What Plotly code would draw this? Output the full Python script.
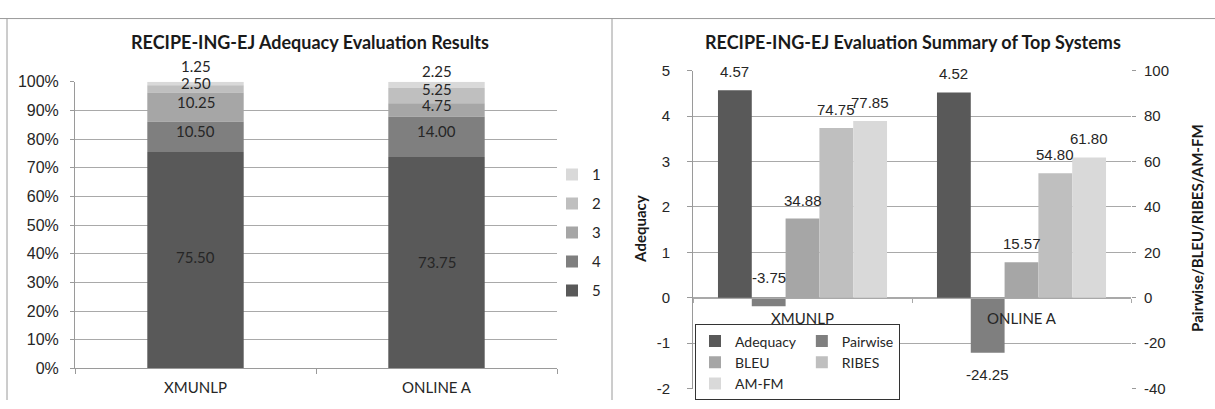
import numpy as np
import plotly.graph_objects as go

W, H = 1215, 409

# ---- Left chart: distribution of adequacy scores (% of sentences) ----
systems = ["XMUNLP", "ONLINE A"]
score_names = ["5", "4", "3", "2", "1"]
score5 = [75.50, 73.75]
score4 = [10.50, 14.00]
score3 = [10.25, 4.75]
score2 = [2.50, 5.25]
score1 = [1.25, 2.25]
pct_ticks = [0, 10, 20, 30, 40, 50, 60, 70, 80, 90, 100]

# ---- Right chart: summary of metrics for the top systems ----
metric_names = ["Adequacy", "Pairwise", "BLEU", "RIBES", "AM-FM"]
adequacy = [4.57, 4.52]
pairwise = [-3.75, -24.25]
bleu = [34.88, 15.57]
ribes = [74.75, 54.80]
amfm = [77.85, 61.80]
adequacy_ticks = [-2, -1, 0, 1, 2, 3, 4, 5]
metric_ticks = [-40, -20, 0, 20, 40, 60, 80, 100]

# ---- styling ----
greys = ["#595959", "#7f7f7f", "#a6a6a6", "#bfbfbf", "#d9d9d9"]
grid_c = "#a9a9a9"
frame_c = "#9a9a9a"
txt_c = "#262626"
SANS = "Liberation Sans, Arial, sans-serif"
CAL = "Lato, Open Sans, sans-serif"
# vertical nudges (px) for the stacked-segment labels, per system
left_label_shift = [[3, 6, 5, 6, 17], [1, 6, 5, 7, 14]]
BARGAP = 0.228


def px(x):
    return x / W


def py(y):
    return 1 - y / H


def tick_text(vals, suffix=""):
    # plain hyphen for negatives
    return [f"{v}{suffix}".replace("\u2212", "-") for v in vals]


fig = go.Figure()

# stacked segments (bottom: score 5, top: score 1); bases come from cumulative sums
left_series = [score5, score4, score3, score2, score1]
bases = np.vstack([np.zeros(2), np.cumsum(np.array(left_series), axis=0)[:-1]])
# added top-down so the legend lists 1 .. 5
for i in reversed(range(len(left_series))):
    name, vals = score_names[i], left_series[i]
    fig.add_trace(go.Bar(
        x=systems, y=vals, base=bases[i], name=name,
        marker=dict(color=greys[i], line=dict(width=0)),
        width=0.4, offsetgroup="L", legend="legend", legendgroup="s" + name,
        xaxis="x", yaxis="y", hoverinfo="skip",
    ))

annotations = []
for i, vals in enumerate(left_series):
    for j, v in enumerate(vals):
        annotations.append(dict(
            x=j, y=bases[i][j] + v / 2, xref="x", yref="y",
            text=f"{v:.2f}", showarrow=False, yshift=left_label_shift[j][i],
            xanchor="center", yanchor="middle",
            font=dict(family=CAL, size=15, color=txt_c),
        ))

# grouped metric bars; adequacy on the left axis, the rest on the right axis
right_series = [adequacy, pairwise, bleu, ribes, amfm]
right_axes = ["y2", "y3", "y3", "y3", "y3"]
legend_cols = ["c1", "c2", "c1", "c2", "c1"]
for k, (name, vals) in enumerate(zip(metric_names, right_series)):
    fig.add_trace(go.Bar(
        x=systems, y=vals, name=name,
        marker=dict(color=greys[k], line=dict(width=0)),
        offsetgroup=str(k), alignmentgroup="R",
        legend="legend2", legendgroup=legend_cols[k],
        xaxis="x2", yaxis=right_axes[k], hoverinfo="skip",
    ))

# value labels above / below each metric bar
n = len(right_series)
bar_w = (1 - BARGAP) / n
small_negative = {(1, 0)}
for k, vals in enumerate(right_series):
    offset = -(1 - BARGAP) / 2 + (k + 0.5) * bar_w
    for j, v in enumerate(vals):
        if v >= 0:
            y, anchor, shift = v, "bottom", 8
        elif (k, j) in small_negative:
            y, anchor, shift = 0, "bottom", 10
        else:
            y, anchor, shift = v, "top", -11
        annotations.append(dict(
            x=j + offset, y=y, xref="x2", yref=right_axes[k],
            text=f"{v:.2f}", showarrow=False, xanchor="center",
            yanchor=anchor, yshift=shift,
            font=dict(family=SANS, size=15, color=txt_c),
        ))

# chart titles
for cx, title in [(310, "RECIPE-ING-EJ Adequacy Evaluation Results"),
                  (913, "RECIPE-ING-EJ Evaluation Summary of Top Systems")]:
    annotations.append(dict(
        x=px(cx), y=py(34), xref="paper", yref="paper", showarrow=False,
        xanchor="center", yanchor="middle",
        text=f"<b>{title}</b>", font=dict(family=CAL, size=18, color="#1a1a1a"),
    ))

# axis titles of the right chart
for cx, title in [(640, "Adequacy"), (1197, "Pairwise/BLEU/RIBES/AM-FM")]:
    annotations.append(dict(
        x=px(cx), y=py(230), xref="paper", yref="paper", showarrow=False,
        xanchor="center", yanchor="middle",
        text=f"<b>{title}</b>", textangle=-90,
        font=dict(family=CAL, size=15, color="#1a1a1a"),
    ))

# right plot vertical extent; the category axis sits on the zero line
r_top, r_bot = py(64.5), py(397)
r_zero = r_bot + (r_top - r_bot) * (0 - adequacy_ticks[0]) / (adequacy_ticks[-1] - adequacy_ticks[0])

frame = dict(type="line", xref="paper", yref="paper", line=dict(color=frame_c, width=1))
shapes = [
    dict(frame, x0=0, x1=1, y0=py(10), y1=py(10)),
    dict(frame, x0=px(7), x1=px(7), y0=0, y1=py(10)),
    dict(frame, x0=px(612), x1=px(612), y0=0, y1=py(10)),
]

fig.update_layout(
    width=W, height=H,
    margin=dict(l=0, r=0, t=0, b=0),
    paper_bgcolor="white", plot_bgcolor="white",
    barmode="group", bargap=BARGAP, bargroupgap=0,
    font=dict(family=SANS, color=txt_c),
    annotations=annotations, shapes=shapes,
    xaxis=dict(
        domain=[px(75), px(557)], anchor="y", type="category",
        showline=True, linecolor=frame_c, ticks="outside", tickson="boundaries",
        ticklen=5, tickcolor=frame_c, showgrid=False,
        tickfont=dict(family=CAL, size=15, color=txt_c), ticklabelstandoff=6,
    ),
    yaxis=dict(
        domain=[py(376), py(76)], anchor="x", range=[0, 100],
        tickmode="array", tickvals=pct_ticks, ticktext=tick_text(pct_ticks, "%"),
        showgrid=True, gridcolor=grid_c,
        showline=True, linecolor=frame_c, ticks="outside", ticklen=4,
        tickcolor=frame_c, zeroline=False,
        tickfont=dict(family=SANS, size=16, color=txt_c), ticklabelstandoff=8,
    ),
    xaxis2=dict(
        domain=[px(693), px(1131)], anchor="free", position=r_zero,
        type="category", showline=True, linecolor=grid_c, ticks="outside",
        tickson="boundaries", ticklen=4, tickcolor=grid_c, showgrid=False,
        tickfont=dict(family=CAL, size=15, color=txt_c), ticklabelstandoff=7,
    ),
    yaxis2=dict(
        domain=[r_bot, r_top], anchor="x2", range=[adequacy_ticks[0], adequacy_ticks[-1]],
        tickmode="array", tickvals=adequacy_ticks, ticktext=tick_text(adequacy_ticks),
        showgrid=True, gridcolor=grid_c, zeroline=False,
        showline=True, linecolor=frame_c, ticks="outside", ticklen=5,
        tickcolor=frame_c, tickfont=dict(family=SANS, size=15, color=txt_c),
        ticklabelstandoff=14,
    ),
    yaxis3=dict(
        overlaying="y2", side="right", anchor="x2",
        range=[metric_ticks[0], metric_ticks[-1]],
        tickmode="array", tickvals=metric_ticks, ticktext=tick_text(metric_ticks),
        showgrid=False, zeroline=False, showline=False, ticks="outside",
        ticklen=4, tickcolor=frame_c,
        tickfont=dict(family=SANS, size=15, color=txt_c), ticklabelstandoff=5,
    ),
    legend=dict(
        x=px(552), y=py(156), xanchor="left", yanchor="top",
        traceorder="grouped", tracegroupgap=6.5, itemwidth=30,
        font=dict(family=CAL, size=15, color=txt_c), bgcolor="rgba(0,0,0,0)",
    ),
    legend2=dict(
        x=px(695), y=py(330), xanchor="left", yanchor="top",
        orientation="h", traceorder="grouped", itemwidth=30,
        bordercolor="#333333", borderwidth=1, bgcolor="white",
        font=dict(family=CAL, size=14, color=txt_c),
    ),
    showlegend=True,
)

fig.write_html("out.html")
